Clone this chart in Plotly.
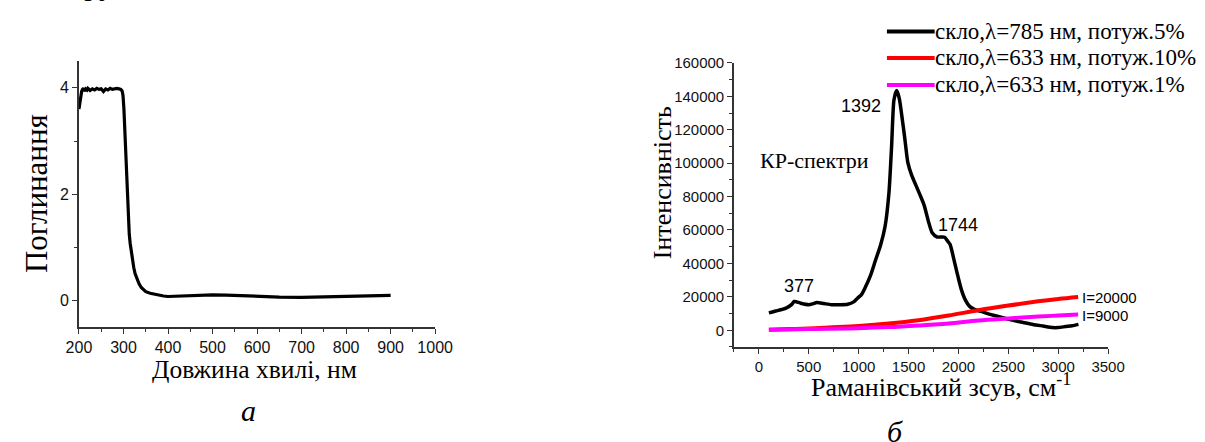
import plotly.graph_objects as go

W, H = 1205, 442

# ---- Panel a: absorption spectrum ----
wavelength = [200, 202, 204, 206, 208, 210, 212, 215, 218, 220, 225, 230, 235, 240, 245, 250,
              255, 258, 260, 265, 270, 275, 280, 285, 290, 294, 297, 299, 301, 303, 305, 307,
              309, 311, 313, 315, 317, 320, 323, 326, 330, 335, 340, 345, 350, 360, 370, 380,
              390, 400, 420, 450, 480, 500, 530, 560, 600, 650, 700, 750, 800, 850, 900]
absorbance = [3.6, 3.72, 3.85, 3.93, 3.97, 3.99, 3.94, 3.98, 3.96, 3.99, 3.95, 3.98, 3.96, 3.99, 3.97, 3.98,
              3.93, 3.97, 3.98, 3.96, 3.99, 3.97, 3.98, 3.99, 3.98, 3.97, 3.94, 3.85, 3.6, 3.2, 2.7, 2.25,
              1.85, 1.5, 1.25, 1.08, 0.95, 0.78, 0.63, 0.51, 0.41, 0.32, 0.25, 0.2, 0.17, 0.14, 0.12, 0.1,
              0.09, 0.08, 0.085, 0.1, 0.11, 0.11, 0.105, 0.095, 0.08, 0.07, 0.065, 0.07, 0.085, 0.095, 0.1]

# ---- Panel b: Raman spectra ----
raman_shift_785 = [100, 170, 272, 330, 353, 377, 420, 500, 540, 581, 650, 727, 810, 890, 950, 988,
                   1030, 1069, 1120, 1167, 1220, 1265, 1304, 1330, 1353, 1379, 1395, 1411, 1440, 1460,
                   1493, 1530, 1574, 1615, 1656, 1700, 1737, 1786, 1830, 1861, 1890, 1916, 1965, 2000,
                   2031, 2070, 2112, 2160, 2226, 2300, 2380, 2454, 2550, 2650, 2747, 2850, 2943, 3000,
                   3073, 3140, 3203]
intensity_785 = [10400, 11500, 13300, 15500, 17250, 17000, 16200, 15300, 15800, 16600, 16000, 15300,
                 15300, 15600, 17000, 19200, 21500, 26000, 33000, 41600, 51000, 62200, 82700, 110000,
                 137500, 143400, 141500, 137500, 125000, 116000, 100300, 93000, 86700, 81000, 74900,
                 65000, 58300, 55800, 55800, 55700, 53500, 51400, 39700, 31000, 24000, 18000, 14300,
                 12500, 11300, 9800, 8600, 7400, 5900, 4700, 3500, 2500, 1600, 1600, 2200, 2700, 3500]

raman_shift_633 = [100, 300, 500, 700, 1000, 1300, 1600, 1900, 2200, 2500, 2800, 3000, 3200]
intensity_633_10 = [300, 700, 1100, 1700, 2600, 4000, 6000, 8800, 12000, 14800, 17300, 18700, 19900]
intensity_633_1 = [300, 500, 750, 950, 1250, 1900, 2900, 4100, 5900, 7100, 8200, 8800, 9400]

series_names = ["скло,λ=785 нм, потуж.5%", "скло,λ=633 нм, потуж.10%", "скло,λ=633 нм, потуж.1%"]
series_colors = ["#000000", "#ff0000", "#ff00ff"]

peak_labels = ["377", "1392", "1744"]
end_labels = ["I=20000", "I=9000"]

SERIF = "Liberation Serif"
SANS = "Liberation Sans"

def px_x(p):
    return p / W

def px_y(p):
    return 1 - p / H

fig = go.Figure()

fig.add_trace(go.Scatter(x=wavelength, y=absorbance, mode="lines",
                         line=dict(color="black", width=3.2), xaxis="x", yaxis="y",
                         showlegend=False))

fig.add_trace(go.Scatter(x=raman_shift_785, y=intensity_785, mode="lines", name=series_names[0],
                         line=dict(color=series_colors[0], width=3.5, shape="spline", smoothing=0.6),
                         xaxis="x2", yaxis="y2", showlegend=False))
fig.add_trace(go.Scatter(x=raman_shift_633, y=intensity_633_10, mode="lines", name=series_names[1],
                         line=dict(color=series_colors[1], width=4, shape="spline"),
                         xaxis="x2", yaxis="y2", showlegend=False))
fig.add_trace(go.Scatter(x=raman_shift_633, y=intensity_633_1, mode="lines", name=series_names[2],
                         line=dict(color=series_colors[2], width=4, shape="spline"),
                         xaxis="x2", yaxis="y2", showlegend=False))

axis_common = dict(showgrid=False, zeroline=False, showline=True, linecolor="#333333", linewidth=1.5,
                   ticks="outside", tickcolor="#333333", tickwidth=1.2, mirror=False)

layout = dict(
    width=W, height=H, autosize=False,
    margin=dict(l=0, r=0, t=0, b=0),
    paper_bgcolor="white", plot_bgcolor="white",
    xaxis=dict(domain=[px_x(67.7), px_x(433.3)], range=[200, 1000], anchor="y",
               tickvals=[200, 300, 400, 500, 600, 700, 800, 900, 1000], ticklen=5,
               minor=dict(ticks="outside", dtick=50, tick0=0, ticklen=3, tickcolor="#333333"),
               tickfont=dict(family=SANS, size=16, color="#111111"), **axis_common),
    yaxis=dict(domain=[px_y(325), px_y(53.3)], range=[-0.5, 4.5], anchor="x",
               tickvals=[0, 2, 4], ticklen=5,
               minor=dict(ticks="outside", dtick=1, tick0=0, ticklen=3, tickcolor="#333333"),
               tickfont=dict(family=SANS, size=16, color="#111111"), **axis_common),
    xaxis2=dict(domain=[px_x(740), px_x(1124)], range=[-250, 3500], anchor="y2",
                tickvals=[0, 500, 1000, 1500, 2000, 2500, 3000, 3500], ticklen=5,
                minor=dict(ticks="outside", dtick=250, tick0=0, ticklen=3, tickcolor="#333333"),
                tickfont=dict(family=SANS, size=15, color="#111111"), **axis_common),
    yaxis2=dict(domain=[px_y(345), px_y(55)], range=[-10000, 160000], anchor="x2",
                tickvals=[0, 20000, 40000, 60000, 80000, 100000, 120000, 140000, 160000], ticklen=5,
                tickformat="d",
                minor=dict(ticks="outside", dtick=10000, tick0=0, ticklen=3, tickcolor="#333333"),
                tickfont=dict(family=SANS, size=15, color="#111111"), **axis_common),
)
fig.update_layout(**layout)

ann = []
# axis titles
ann.append(dict(text="Довжина хвилі, нм", x=px_x(247.5), y=px_y(368), xref="paper", yref="paper",
                showarrow=False, font=dict(family=SERIF, size=25.5, color="black"),
                xanchor="center", yanchor="middle"))
ann.append(dict(text="Поглинання", x=px_x(23.5), y=px_y(188), xref="paper", yref="paper",
                showarrow=False, textangle=-90, font=dict(family=SERIF, size=31, color="black"),
                xanchor="center", yanchor="middle"))
ann.append(dict(text="Раманівський зсув, см<sup>-1</sup>", x=px_x(952), y=px_y(384), xref="paper", yref="paper",
                showarrow=False, font=dict(family=SERIF, size=26, color="black"),
                xanchor="center", yanchor="middle"))
ann.append(dict(text="Інтенсивність", x=px_x(667), y=px_y(177), xref="paper", yref="paper",
                showarrow=False, textangle=-90, font=dict(family=SERIF, size=26, color="black"),
                xanchor="center", yanchor="middle"))
# panel letters
ann.append(dict(text="<i>a</i>", x=px_x(242), y=px_y(410), xref="paper", yref="paper",
                showarrow=False, font=dict(family=SERIF, size=30, color="black"),
                xanchor="center", yanchor="middle"))
ann.append(dict(text="<i>б</i>", x=px_x(905), y=px_y(431), xref="paper", yref="paper",
                showarrow=False, font=dict(family=SERIF, size=30, color="black"),
                xanchor="center", yanchor="middle"))
# clipped text fragment at top
ann.append(dict(text="гру", x=px_x(58), y=px_y(-6), xref="paper", yref="paper",
                showarrow=False, font=dict(family=SERIF, size=30, color="black"),
                xanchor="left", yanchor="bottom"))
# in-plot labels
ann.append(dict(text="КР-спектри", x=559, y=101300, xref="x2", yref="y2", showarrow=False,
                font=dict(family=SERIF, size=22, color="black"), xanchor="center", yanchor="middle"))
peak_pos = [(402, 26400), (1020, 134000), (1997, 63200)]
for lab, (px_, py_) in zip(peak_labels, peak_pos):
    ann.append(dict(text=lab, x=px_, y=py_, xref="x2", yref="y2", showarrow=False,
                    font=dict(family=SANS, size=18, color="black"), xanchor="center", yanchor="middle"))
ann.append(dict(text=end_labels[0], x=3215, y=intensity_633_10[-1], xref="x2", yref="y2", showarrow=False,
                font=dict(family=SANS, size=15, color="black"), xanchor="left", yanchor="middle"))
ann.append(dict(text=end_labels[1], x=3215, y=intensity_633_1[-1] - 800, xref="x2", yref="y2", showarrow=False,
                font=dict(family=SANS, size=15, color="black"), xanchor="left", yanchor="middle"))

# manual legend
shapes = []
legend_rows = [23, 50, 77.5]
for name, col, ry in zip(series_names, series_colors, legend_rows):
    shapes.append(dict(type="line", xref="paper", yref="paper", x0=px_x(897), x1=px_x(946),
                       y0=px_y(ry), y1=px_y(ry), line=dict(color=col, width=4)))
    ann.append(dict(text=name, x=px_x(944), y=px_y(ry), xref="paper", yref="paper", showarrow=False,
                    font=dict(family=SERIF, size=23, color="black"), xanchor="left", yanchor="middle"))

fig.update_layout(annotations=ann, shapes=shapes)

fig.write_html("out.html")
